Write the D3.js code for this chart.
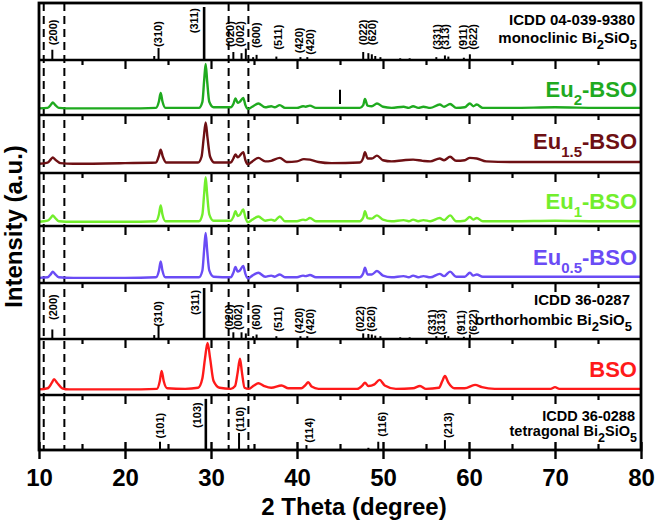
<!DOCTYPE html>
<html>
<head>
<meta charset="utf-8">
<script src="https://cdn.jsdelivr.net/npm/d3@7"></script>
<style>
body { margin: 0; background: #fff; }
text { font-family: Arial, "Liberation Sans", sans-serif; }
</style>
</head>
<body>
<script>
// ---- data: [2theta, relative intensity in panel] ----
var eu2 = [[10,0.12],[11.0,0.13],[11.4,0.19],[11.6,0.23],[11.85,0.19],[12.3,0.13],[14,0.12],[20,0.12],[23.6,0.13],[23.95,0.25],[24.15,0.40],[24.35,0.25],[24.7,0.13],[28.6,0.13],[29.0,0.24],[29.2,0.62],[29.38,0.93],[29.55,0.62],[29.8,0.24],[30.3,0.14],[32.3,0.14],[32.6,0.20],[32.85,0.30],[33.1,0.22],[33.35,0.24],[33.75,0.31],[34.0,0.18],[34.3,0.11],[34.8,0.15],[35.5,0.21],[36.3,0.14],[37.0,0.16],[37.4,0.14],[38.0,0.18],[38.6,0.13],[40.0,0.13],[40.7,0.16],[41.0,0.15],[41.5,0.17],[42.2,0.13],[47.3,0.13],[47.7,0.18],[47.9,0.29],[48.2,0.17],[48.7,0.16],[49.3,0.21],[50,0.15],[51,0.13],[52.4,0.15],[53.0,0.13],[53.5,0.16],[54.1,0.13],[54.7,0.15],[55.5,0.13],[56.6,0.19],[57.1,0.15],[57.8,0.20],[58.5,0.13],[59.5,0.14],[60.1,0.21],[60.5,0.16],[60.9,0.19],[61.6,0.13],[65,0.13],[70,0.14],[75,0.13],[80,0.13]];
var eu15 = [[10,0.16],[11.0,0.18],[11.4,0.24],[11.6,0.27],[11.9,0.23],[12.5,0.17],[14,0.16],[20,0.17],[23.6,0.18],[23.95,0.30],[24.15,0.40],[24.4,0.28],[24.8,0.18],[28.5,0.18],[28.9,0.28],[29.15,0.60],[29.38,0.87],[29.6,0.60],[29.9,0.28],[30.4,0.18],[32.3,0.18],[32.6,0.25],[32.85,0.32],[33.1,0.27],[33.3,0.29],[33.75,0.36],[34.0,0.22],[34.3,0.15],[34.8,0.20],[35.5,0.26],[36.3,0.20],[37.0,0.21],[38.0,0.26],[38.8,0.19],[40.0,0.20],[40.8,0.24],[41.5,0.23],[42.5,0.19],[44,0.17],[47.3,0.18],[47.7,0.26],[47.9,0.36],[48.2,0.25],[48.7,0.25],[49.3,0.30],[50,0.22],[51,0.20],[52.4,0.22],[53.5,0.23],[54.6,0.21],[55.5,0.20],[56.6,0.25],[57.1,0.22],[57.8,0.28],[58.5,0.21],[59.5,0.22],[60.1,0.26],[60.9,0.25],[62,0.20],[65,0.19],[70,0.19],[75,0.19],[80,0.19]];
var eu1 = [[10,0.08],[11.0,0.10],[11.4,0.16],[11.6,0.20],[11.85,0.16],[12.3,0.09],[14,0.08],[20,0.08],[23.6,0.09],[23.95,0.22],[24.15,0.39],[24.35,0.22],[24.7,0.09],[28.6,0.09],[29.0,0.22],[29.2,0.60],[29.38,0.92],[29.55,0.60],[29.8,0.22],[30.3,0.10],[32.3,0.10],[32.6,0.17],[32.85,0.28],[33.1,0.19],[33.35,0.21],[33.75,0.31],[34.0,0.16],[34.3,0.07],[34.8,0.12],[35.5,0.18],[36.3,0.10],[37.0,0.12],[37.4,0.10],[38.0,0.18],[38.6,0.09],[40.0,0.09],[40.7,0.12],[41.0,0.11],[41.5,0.15],[42.2,0.09],[47.3,0.09],[47.7,0.16],[47.9,0.28],[48.2,0.15],[48.7,0.14],[49.3,0.20],[50,0.12],[51,0.09],[52.4,0.11],[53.0,0.09],[53.5,0.12],[54.1,0.09],[54.7,0.11],[55.5,0.09],[56.6,0.15],[57.1,0.11],[57.8,0.20],[58.5,0.09],[59.5,0.10],[60.1,0.17],[60.5,0.12],[60.9,0.15],[61.6,0.09],[65,0.09],[70,0.10],[75,0.09],[80,0.09]];
var eu05 = [[10,0.09],[11.0,0.10],[11.4,0.16],[11.6,0.20],[11.85,0.16],[12.3,0.10],[14,0.09],[20,0.09],[23.6,0.10],[23.95,0.22],[24.15,0.38],[24.35,0.22],[24.7,0.10],[28.6,0.10],[29.0,0.22],[29.2,0.58],[29.38,0.88],[29.55,0.58],[29.8,0.22],[30.3,0.11],[32.3,0.10],[32.6,0.18],[32.85,0.28],[33.1,0.20],[33.35,0.22],[33.75,0.30],[34.0,0.16],[34.3,0.08],[34.8,0.13],[35.5,0.18],[36.3,0.11],[37.0,0.13],[37.4,0.11],[38.0,0.15],[38.6,0.10],[40.0,0.10],[40.7,0.13],[41.0,0.12],[41.5,0.14],[42.2,0.10],[47.3,0.10],[47.7,0.17],[47.9,0.27],[48.2,0.15],[48.7,0.15],[49.3,0.21],[50,0.13],[51,0.10],[52.4,0.12],[53.0,0.10],[53.5,0.13],[54.1,0.10],[54.7,0.12],[55.5,0.10],[56.6,0.16],[57.1,0.12],[57.8,0.20],[58.5,0.11],[59.5,0.11],[60.1,0.18],[60.5,0.13],[60.9,0.15],[61.6,0.11],[65,0.11],[70,0.11],[75,0.11],[80,0.11]];
var bso = [[10,0.10],[11.0,0.12],[11.5,0.22],[11.75,0.28],[12.1,0.22],[12.7,0.12],[13.5,0.10],[20,0.10],[23.7,0.11],[24.05,0.25],[24.26,0.43],[24.5,0.25],[24.9,0.12],[27,0.11],[28.5,0.13],[29.0,0.30],[29.3,0.65],[29.6,0.93],[29.9,0.65],[30.3,0.25],[31,0.13],[32.3,0.11],[32.8,0.16],[33.1,0.40],[33.37,0.65],[33.6,0.40],[33.9,0.13],[34.4,0.11],[35.0,0.17],[35.5,0.21],[36.2,0.16],[37,0.13],[38.2,0.17],[39,0.12],[40.5,0.12],[41.0,0.18],[41.3,0.23],[41.7,0.15],[42.5,0.11],[47,0.11],[47.6,0.17],[47.9,0.22],[48.3,0.16],[49.0,0.19],[49.6,0.27],[50.2,0.17],[51.5,0.11],[53.5,0.12],[54.3,0.16],[55,0.11],[56.5,0.13],[56.9,0.25],[57.2,0.34],[57.6,0.22],[58.3,0.12],[59.5,0.12],[60.7,0.18],[61.5,0.14],[63,0.11],[69.5,0.11],[70.0,0.14],[70.5,0.11],[80,0.11]];

// reference sticks [2theta, relative height]
var monoSticks = [[11.55,0.18],[23.4,0.07],[23.9,0.21],[29.2,0.93],[32.6,0.14],[33.55,0.12],[34.05,0.2],[34.9,0.05],[35.3,0.09],[37.6,0.06],[40.4,0.05],[41.2,0.05],[47.7,0.14],[48.3,0.12],[48.7,0.1],[49.1,0.07],[49.7,0.05],[52.0,0.03],[53.1,0.03],[56.2,0.05],[57.2,0.08],[57.6,0.06],[59.4,0.04],[60.1,0.1]];
var orthoSticks = [[11.55,0.17],[23.4,0.07],[23.9,0.25],[29.2,0.91],[32.6,0.12],[33.55,0.12],[34.05,0.1],[34.9,0.05],[35.3,0.08],[37.6,0.05],[40.4,0.05],[41.2,0.05],[47.7,0.1],[48.3,0.09],[48.7,0.08],[49.1,0.06],[49.7,0.05],[52.0,0.03],[53.1,0.03],[56.2,0.05],[57.2,0.07],[57.6,0.05],[59.4,0.04],[60.1,0.08]];
var tetraSticks = [[24.07,0.15],[29.4,0.93],[33.26,0.31],[41.1,0.09],[48.3,0.04],[49.45,0.15],[57.2,0.18]];

// hkl labels [text, 2theta, level where the label starts]
var monoLabels = [["(200)",11.66,0.26],["(310)",23.87,0.23],["(311)",28.06,0.47],["(020)",32.2,0.23],["(002)",33.37,0.23],["(600)",35.27,0.21],["(511)",37.8,0.18],["(420)",40.23,0.12],["(420)",41.5,0.09],["(022)",47.7,0.26],["(620)",48.7,0.26],["(331)",56.24,0.18],["(313)",57.2,0.18],["(911)",59.34,0.18],["(622)",60.5,0.18]];
var orthoLabels = [["(200)",11.66,0.34],["(310)",23.87,0.22],["(311)",28.1,0.43],["(020)",32.13,0.16],["(002)",33.17,0.16],["(600)",35.27,0.16],["(511)",37.8,0.13],["(420)",40.23,0.1],["(420)",41.5,0.08],["(022)",47.3,0.13],["(620)",48.6,0.13],["(331)",55.66,0.07],["(313)",56.8,0.07],["(911)",59.07,0.07],["(622)",60.5,0.07]];
var tetraLabels = [["(101)",24.07,0.21],["(103)",28.34,0.4],["(110)",33.37,0.33],["(114)",41.43,0.13],["(116)",49.85,0.24],["(213)",57.6,0.22]];

var dashedAt = [10.55, 12.95, 32.05, 34.35];
var xTicks = [10, 20, 30, 40, 50, 60, 70, 80];
var xMinor = [15, 25, 35, 45, 55, 65, 75];

var sampleNames = ["Eu", "Eu", "Eu", "Eu", "BSO"];
var sampleSubs = ["2", "1.5", "1", "0.5", ""];
var sampleColors = ["#1faa1f", "#6e1014", "#72ee2c", "#6a4cf5", "#ff1a1a"];

// ---- layout ----
var svgWidth = 658, svgHeight = 523;
var margin = {top: 3, right: 17, bottom: 73, left: 39};
var width = svgWidth - margin.left - margin.right;
var height = svgHeight - margin.top - margin.bottom;
// panel edges measured from the top of the plot
var edges = [0, 57, 112, 170, 223, 280, 336, 392, 447];

var svg = d3.select("body").append("svg")
    .attr("width", svgWidth)
    .attr("height", svgHeight);

var chartGroup = svg.append("g")
    .attr("transform", "translate(" + margin.left + "," + margin.top + ")");

var xScale = d3.scaleLinear().domain([10, 80]).range([0, width]);

function panelY(i) {
    return d3.scaleLinear().domain([0, 1]).range([edges[i + 1], edges[i]]);
}

// dashed guide lines
chartGroup.selectAll(".guide").data(dashedAt).enter().append("line")
    .attr("x1", d => xScale(d)).attr("x2", d => xScale(d))
    .attr("y1", 0).attr("y2", height)
    .attr("stroke", "#000").attr("stroke-width", 2)
    .attr("stroke-dasharray", "8,5");

// patterns
var patterns = [eu2, eu15, eu1, eu05, bso];
var patternPanels = [1, 2, 3, 4, 6];
var labelBase = [37.3, 34.3, 36.3, 39, 38.3];

patterns.forEach(function(data, k) {
    var y = panelY(patternPanels[k]);
    var line = d3.line()
        .x(d => xScale(d[0]))
        .y(d => y(d[1]))
        .curve(d3.curveMonotoneX);
    chartGroup.append("path")
        .datum(data)
        .attr("d", line)
        .attr("fill", "none")
        .attr("stroke", sampleColors[k])
        .attr("stroke-width", 2.4)
        .attr("stroke-linejoin", "round");

    var t = chartGroup.append("text")
        .attr("x", width - 4)
        .attr("y", edges[patternPanels[k]] + labelBase[k])
        .attr("text-anchor", "end")
        .attr("font-size", "22px")
        .attr("font-weight", "bold")
        .attr("fill", sampleColors[k]);
    t.append("tspan").text(sampleNames[k]);
    if (sampleSubs[k]) {
        t.append("tspan").attr("dy", 8).attr("font-size", "15px").text(sampleSubs[k]);
        t.append("tspan").attr("dy", -8).text("-BSO");
    }
});

// stray mark in the Eu2 panel
chartGroup.append("line")
    .attr("x1", xScale(45)).attr("x2", xScale(45))
    .attr("y1", panelY(1)(0.46)).attr("y2", panelY(1)(0.2))
    .attr("stroke", "#000").attr("stroke-width", 2);

// reference panels
function drawRef(panel, sticks, labels, title, phase, lines, rightX, fs) {
    var y = panelY(panel);
    chartGroup.selectAll(null).data(sticks).enter().append("line")
        .attr("x1", d => xScale(d[0])).attr("x2", d => xScale(d[0]))
        .attr("y1", y(0)).attr("y2", d => y(d[1]))
        .attr("stroke", "#000")
        .attr("stroke-width", d => d[1] > 0.5 ? 2.6 : 2);

    chartGroup.selectAll(null).data(labels).enter().append("text")
        .attr("transform", d => "translate(" + xScale(d[1]) + "," + y(d[2]) + ") rotate(-90)")
        .attr("dy", "0.36em")
        .attr("font-size", "11px")
        .attr("font-weight", "bold")
        .attr("fill", "#000")
        .text(d => d[0]);

    var top = edges[panel];
    chartGroup.append("text")
        .attr("x", rightX).attr("y", top + lines[0])
        .attr("text-anchor", "end")
        .attr("font-size", fs + "px").attr("font-weight", "bold")
        .text(title);
    var t = chartGroup.append("text")
        .attr("x", rightX + 2).attr("y", top + lines[1])
        .attr("text-anchor", "end")
        .attr("font-size", fs + "px").attr("font-weight", "bold");
    t.append("tspan").text(phase + " Bi");
    t.append("tspan").attr("dy", 6).attr("font-size", (fs - 2) + "px").text("2");
    t.append("tspan").attr("dy", -6).text("SiO");
    t.append("tspan").attr("dy", 6).attr("font-size", (fs - 2) + "px").text("5");
}

drawRef(0, monoSticks, monoLabels, "ICDD 04-039-9380", "monoclinic", [22, 40], width - 6, 15);
drawRef(5, orthoSticks, orthoLabels, "ICDD 36-0287", "orthorhombic", [22, 42], width - 11, 15);
drawRef(7, tetraSticks, tetraLabels, "ICDD 36-0288", "tetragonal", [26, 40.5], width - 6, 14.5);

// ticks under every panel separator
for (var i = 1; i < 8; i++) {
    chartGroup.append("g")
        .attr("transform", "translate(0," + edges[i] + ")")
        .call(d3.axisBottom(xScale).tickValues(xTicks.slice(1, -1)).tickSize(9).tickFormat(""))
        .call(g => g.select(".domain").remove())
        .call(g => g.selectAll("line").attr("stroke-width", 2.2));
    chartGroup.append("g")
        .attr("transform", "translate(0," + edges[i] + ")")
        .call(d3.axisBottom(xScale).tickValues(xMinor).tickSize(5).tickFormat(""))
        .call(g => g.select(".domain").remove())
        .call(g => g.selectAll("line").attr("stroke-width", 2.2));
    chartGroup.append("line")
        .attr("x1", 0).attr("x2", width)
        .attr("y1", edges[i]).attr("y2", edges[i])
        .attr("stroke", "#000").attr("stroke-width", 2.6);
}

// bottom axis
var bottomAxis = chartGroup.append("g")
    .attr("transform", "translate(0," + height + ")")
    .call(d3.axisBottom(xScale).tickValues(xTicks).tickSize(9).tickPadding(10))
    .call(g => g.select(".domain").remove());
bottomAxis.selectAll("line").attr("stroke-width", 2.4);
bottomAxis.selectAll("text")
    .attr("font-size", "24px").attr("font-weight", "bold")
    .attr("font-family", "Arial, 'Liberation Sans', sans-serif")
    .attr("fill", "#000");
chartGroup.append("g")
    .attr("transform", "translate(0," + height + ")")
    .call(d3.axisTop(xScale).tickValues(xTicks).tickSize(8).tickFormat(""))
    .call(g => g.select(".domain").remove())
    .call(g => g.selectAll("line").attr("stroke-width", 2.4));
chartGroup.append("g")
    .attr("transform", "translate(0," + height + ")")
    .call(d3.axisTop(xScale).tickValues(xMinor).tickSize(6).tickFormat(""))
    .call(g => g.select(".domain").remove())
    .call(g => g.selectAll("line").attr("stroke-width", 2.2));

// frame
chartGroup.append("rect")
    .attr("x", 0).attr("y", 0)
    .attr("width", width).attr("height", height)
    .attr("fill", "none").attr("stroke", "#000").attr("stroke-width", 2.8);

// axis titles
svg.append("text")
    .attr("x", 354).attr("y", 515)
    .attr("text-anchor", "middle")
    .attr("font-size", "24px").attr("font-weight", "bold")
    .text("2 Theta (degree)");

svg.append("text")
    .attr("transform", "translate(22," + (margin.top + height / 2) + ") rotate(-90)")
    .attr("text-anchor", "middle")
    .attr("font-size", "24px").attr("font-weight", "bold")
    .text("Intensity (a.u.)");
</script>
</body>
</html>
